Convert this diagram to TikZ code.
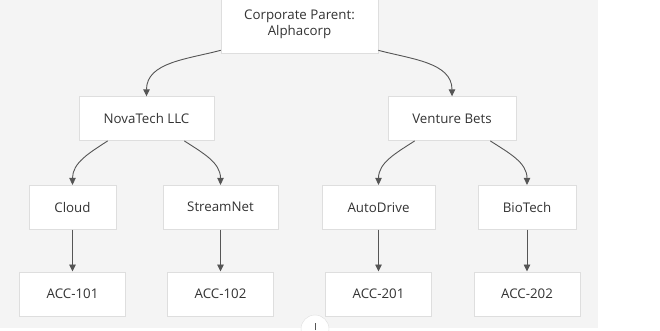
\documentclass[tikz,border=0pt]{standalone}
\usepackage{fontspec}
\setmainfont{Open Sans}
\usepackage{xcolor}
\usetikzlibrary{arrows.meta,positioning}
\definecolor{bggray}{HTML}{F4F4F4}
\definecolor{boxline}{HTML}{DEDEDE}
\definecolor{edgegray}{HTML}{555555}
\definecolor{txtgray}{HTML}{333333}

\begin{document}
\begin{tikzpicture}[
    x=1pt, y=1pt,
    font=\fontsize{13.3}{15.5}\selectfont,
    org/.style={draw=boxline, fill=white, line width=0.6pt, text=txtgray,
                minimum height=44pt, align=center, inner sep=2pt},
    arr/.style={draw=edgegray, line width=0.9pt,
                -{Triangle[length=7pt,width=6.5pt]}},
    node distance=42pt,
    ]
\useasboundingbox (0,0) rectangle (660,330);
\fill[bggray] (0,2) rectangle (598,330);
\begin{scope}
\clip (0,0) rectangle (660,330);
% levels
\node[org, minimum width=157pt, minimum height=57pt] (root) at (299.5,305.5)
  {Corporate Parent:\\Alphacorp};
\node[org, minimum width=135pt, below=43pt of root, xshift=-153pt] (nova) {NovaTech LLC};
\node[org, minimum width=128pt, below=43pt of root, xshift=152.5pt] (venture) {Venture Bets};

\node[org, minimum width=87pt, below=44pt of nova, xshift=-74pt] (cloud) {Cloud};
\node[org, minimum width=115pt, below=44pt of nova, xshift=74pt] (stream) {StreamNet};
\node[org, minimum width=113pt, below=44pt of venture, xshift=-73.5pt] (auto) {AutoDrive};
\node[org, minimum width=98pt, below=44pt of venture, xshift=75pt] (bio) {BioTech};

\node[org, minimum width=106pt, below=of cloud] (acc101) {ACC-101};
\node[org, minimum width=106pt, below=of stream] (acc102) {ACC-102};
\node[org, minimum width=106pt, below=of auto] (acc201) {ACC-201};
\node[org, minimum width=106pt, below=of bio] (acc202) {ACC-202};

% edges
\draw[arr] ([yshift=3pt]root.south west) to[out=195, in=90] (nova);
\draw[arr] ([yshift=3pt]root.south east) to[out=-15, in=90] (venture);
\draw[arr] ([xshift=29pt]nova.south west) to[out=213, in=90] (cloud);
\draw[arr] ([xshift=-30pt]nova.south east) to[out=-33, in=90] (stream);
\draw[arr] ([xshift=27pt]venture.south west) to[out=213, in=90] (auto);
\draw[arr] ([xshift=-26pt]venture.south east) to[out=-33, in=90] (bio);
\foreach \a/\b in {cloud/acc101, stream/acc102, auto/acc201, bio/acc202}
  \draw[arr] (\a) -- (\b);

% button at the bottom edge
\draw[boxline, fill=white] (315,1) circle (14pt);
\draw[edgegray, line width=0.8pt] (315,0) -- (315,7);
\end{scope}
\end{tikzpicture}
\end{document}
